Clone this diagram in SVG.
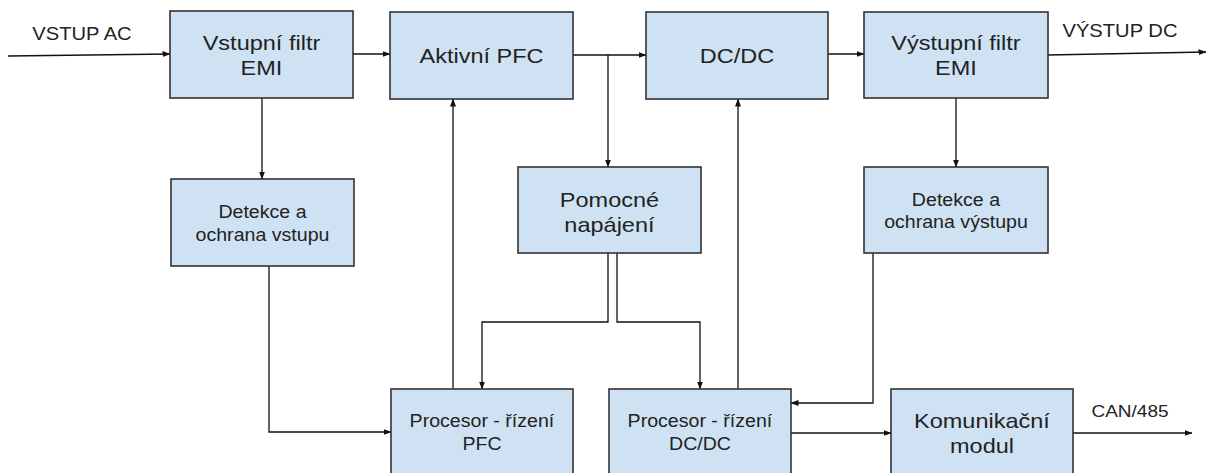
<svg xmlns="http://www.w3.org/2000/svg" width="1208" height="473" viewBox="0 0 1208 473">
<defs>
<marker id="arr" markerUnits="userSpaceOnUse" markerWidth="8" markerHeight="6" refX="7.5" refY="3" orient="auto">
<path d="M0,0 L8,3 L0,6 Z" fill="#111"/>
</marker>
<style>
.box{fill:#cfe2f3;stroke:#333;stroke-width:1.6}
.t{font-family:"Liberation Sans",Arial,sans-serif;fill:#222;text-anchor:middle;transform-box:fill-box;transform-origin:center;transform:scaleX(1.12)}
.big{font-size:21px}
.sm{font-size:17.5px}
.lbl{font-size:18px}
.c{fill:none;stroke:#111;stroke-width:1.3}
.a{marker-end:url(#arr)}
</style>
</defs>
<rect width="1208" height="473" fill="#fff"/>
<g id="connectors">
<path class="c a" d="M8,56 L170,54"/>
<path class="c a" d="M353,54 L390,54"/>
<path class="c a" d="M573,55 L646,55"/>
<path class="c a" d="M828,54 L864,54"/>
<path class="c a" d="M1048,55 L1206,52"/>
<path class="c a" d="M608,55 L608,167"/>
<path class="c a" d="M262,98 L262,179"/>
<path class="c a" d="M956,98 L956,167"/>
<path class="c a" d="M269,266 L269,432 L391,432"/>
<path class="c a" d="M453,389 L453,99"/>
<path class="c a" d="M738,389 L738,99"/>
<path class="c a" d="M608,253 L608,322 L482,322 L482,389"/>
<path class="c a" d="M617,253 L617,322 L700,322 L700,389"/>
<path class="c a" d="M873,253 L873,403 L791,403"/>
<path class="c a" d="M791,433 L891,433"/>
<path class="c a" d="M1073,433 L1192,433"/>
</g>
<g id="labels">
<text class="t lbl" x="82" y="40">VSTUP AC</text>
<text class="t lbl" x="1120" y="37">VÝSTUP DC</text>
<text class="t lbl" x="1130" y="417" style="font-size:17px">CAN/485</text>
</g>
<g id="vstupni-filtr">
<rect class="box" x="170" y="11" width="183" height="87"/>
<text class="t big" x="261.5" y="50">Vstupní filtr</text>
<text class="t big" x="261.5" y="75">EMI</text>
</g>
<g id="aktivni-pfc">
<rect class="box" x="390" y="12" width="183" height="87"/>
<text class="t big" x="481.5" y="63">Aktivní PFC</text>
</g>
<g id="dcdc">
<rect class="box" x="646" y="12" width="182" height="87"/>
<text class="t big" x="737" y="63">DC/DC</text>
</g>
<g id="vystupni-filtr">
<rect class="box" x="864" y="12" width="184" height="86"/>
<text class="t big" x="956" y="50">Výstupní filtr</text>
<text class="t big" x="956" y="75">EMI</text>
</g>
<g id="detekce-vstupu">
<rect class="box" x="171" y="179" width="183" height="87"/>
<text class="t sm" x="262.5" y="218">Detekce a</text>
<text class="t sm" x="262.5" y="241">ochrana vstupu</text>
</g>
<g id="pomocne-napajeni">
<rect class="box" x="518" y="167" width="183" height="86"/>
<text class="t big" x="609.5" y="207">Pomocné</text>
<text class="t big" x="609.5" y="232">napájení</text>
</g>
<g id="detekce-vystupu">
<rect class="box" x="864" y="167" width="184" height="86"/>
<text class="t sm" x="956" y="206">Detekce a</text>
<text class="t sm" x="956" y="228">ochrana výstupu</text>
</g>
<g id="procesor-pfc">
<rect class="box" x="391" y="389" width="182" height="90"/>
<text class="t sm" x="482" y="427">Procesor - řízení</text>
<text class="t sm" x="482" y="450">PFC</text>
</g>
<g id="procesor-dcdc">
<rect class="box" x="609" y="389" width="182" height="90"/>
<text class="t sm" x="700" y="427">Procesor - řízení</text>
<text class="t sm" x="700" y="450">DC/DC</text>
</g>
<g id="komunikacni-modul">
<rect class="box" x="891" y="389" width="182" height="90"/>
<text class="t big" x="982" y="428">Komunikační</text>
<text class="t big" x="982" y="453">modul</text>
</g>
</svg>
